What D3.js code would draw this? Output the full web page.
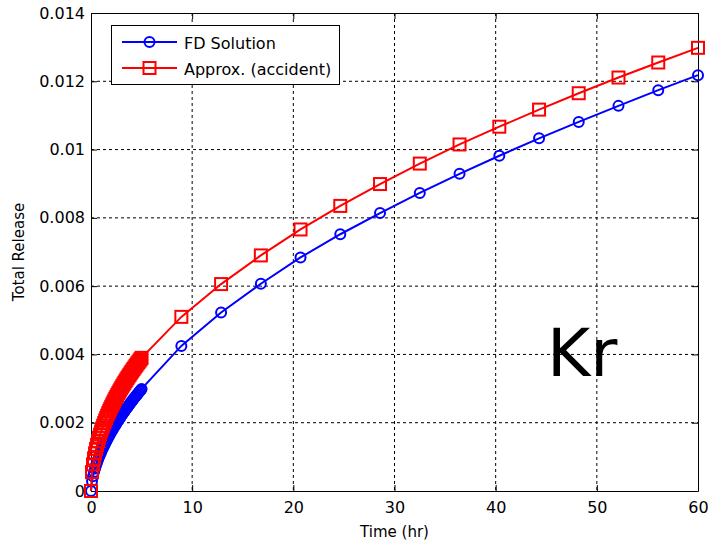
<!DOCTYPE html>
<html>
<head>
<meta charset="utf-8">
<script src="https://cdn.jsdelivr.net/npm/d3@7"></script>
<style>
  html, body { margin: 0; padding: 0; background: #fff; }
  svg { display: block; }
  text { font-family: "DejaVu Sans", sans-serif; fill: #000; }
</style>
</head>
<body>
<svg id="chart" width="708" height="544"></svg>
<script>
// ---- data ----
const times = [0, 0.1, 0.2, 0.3, 0.4, 0.5, 0.6, 0.7, 0.8, 0.9, 1.0, 1.1, 1.2, 1.3, 1.4, 1.5,
  1.6, 1.7, 1.8, 1.9, 2.0, 2.1, 2.2, 2.3, 2.4, 2.5, 2.6, 2.7, 2.8, 2.9, 3.0, 3.1, 3.2, 3.3,
  3.4, 3.5, 3.6, 3.7, 3.8, 3.9, 4.0, 4.1, 4.2, 4.3, 4.4, 4.5, 4.6, 4.7, 4.8, 4.9, 5.0,
  8.93, 12.86, 16.79, 20.71, 24.64, 28.57, 32.5, 36.43, 40.36, 44.29, 48.21, 52.14, 56.07, 60];

const fdSolution = [0, 0.000286, 0.000434, 0.000553, 0.000657, 0.000751, 0.000838, 0.000919,
  0.000996, 0.001069, 0.001138, 0.001205, 0.001270, 0.001332, 0.001393, 0.001452, 0.001509,
  0.001565, 0.001620, 0.001673, 0.001726, 0.001777, 0.001827, 0.001877, 0.001925, 0.001973,
  0.002019, 0.002066, 0.002112, 0.002156, 0.002201, 0.002245, 0.002288, 0.002330, 0.002372,
  0.002414, 0.002455, 0.002496, 0.002536, 0.002576, 0.002615, 0.002654, 0.002693, 0.002731,
  0.002769, 0.002807, 0.002844, 0.002881, 0.002918, 0.002954, 0.00299,
  0.00425, 0.00523, 0.00607, 0.00684, 0.00752, 0.00814, 0.00873, 0.00929, 0.00982, 0.01033,
  0.01081, 0.01128, 0.01174, 0.01218];

const approxAccident = [0, 0.000552, 0.000780, 0.000955, 0.001103, 0.001233, 0.001351, 0.001459,
  0.001560, 0.001654, 0.001744, 0.001829, 0.001910, 0.001988, 0.002064, 0.002136, 0.002206,
  0.002274, 0.002340, 0.002404, 0.002466, 0.002527, 0.002587, 0.002645, 0.002702, 0.002757,
  0.002812, 0.002866, 0.002918, 0.002970, 0.003021, 0.003071, 0.003120, 0.003168, 0.003216,
  0.003263, 0.003309, 0.003355, 0.003400, 0.003444, 0.003488, 0.003531, 0.003574, 0.003616,
  0.003658, 0.003700, 0.003741, 0.003781, 0.003821, 0.003861, 0.003900,
  0.00510, 0.00606, 0.00690, 0.00766, 0.00835, 0.00899, 0.00959, 0.01015, 0.01067, 0.01117,
  0.01165, 0.01211, 0.01255, 0.01298];

const xTicks = [0, 10, 20, 30, 40, 50, 60];
const yTicks = [0, 0.002, 0.004, 0.006, 0.008, 0.01, 0.012, 0.014];
const yTickLabels = ["0", "0.002", "0.004", "0.006", "0.008", "0.01", "0.012", "0.014"];
const seriesNames = ["FD Solution", "Approx. (accident)"];
const xLabel = "Time (hr)";
const yLabel = "Total Release";
const annotation = "Kr";

// ---- layout ----
const L = 91, R = 698, T = 13, B = 491;
const svg = d3.select("#chart");
const x = d3.scaleLinear().domain([0, 60]).range([L, R]);
const y = d3.scaleLinear().domain([0, 0.014]).range([B, T]);

// grid
const grid = svg.append("g");
grid.selectAll("line.gx").data(xTicks.slice(1, -1)).enter().append("line")
  .attr("x1", d => x(d)).attr("x2", d => x(d)).attr("y1", T).attr("y2", B)
  .attr("stroke", "#000").attr("stroke-width", 1).attr("stroke-dasharray", "3,3");
grid.selectAll("line.gy").data(yTicks.slice(1, -1)).enter().append("line")
  .attr("y1", d => y(d)).attr("y2", d => y(d)).attr("x1", L).attr("x2", R)
  .attr("stroke", "#000").attr("stroke-width", 1).attr("stroke-dasharray", "3,3");

// axes with inward ticks on all four sides
const tl = 6;
const axB = svg.append("g").attr("transform", `translate(0,${B})`)
  .call(d3.axisBottom(x).tickValues(xTicks).tickSizeInner(-tl).tickSizeOuter(0).tickPadding(10).tickFormat(d3.format("d")));
const axT = svg.append("g").attr("transform", `translate(0,${T})`)
  .call(d3.axisTop(x).tickValues(xTicks).tickSizeInner(-tl).tickSizeOuter(0).tickFormat(""));
const axL = svg.append("g").attr("transform", `translate(${L},0)`)
  .call(d3.axisLeft(y).tickValues(yTicks).tickSizeInner(-tl).tickSizeOuter(0).tickPadding(6)
    .tickFormat((d, i) => yTickLabels[i]));
const axR = svg.append("g").attr("transform", `translate(${R},0)`)
  .call(d3.axisRight(y).tickValues(yTicks).tickSizeInner(-tl).tickSizeOuter(0).tickFormat(""));
[axB, axT, axL, axR].forEach(a => {
  a.selectAll(".domain").attr("stroke", "#000").attr("stroke-width", 1);
  a.selectAll(".tick line").attr("stroke", "#000");
  a.selectAll("text").attr("font-family", "DejaVu Sans").attr("font-size", 16).attr("fill", "#000");
});
axB.selectAll(".tick text").attr("dy", null).attr("y", 22);

// axis labels
svg.append("text").attr("x", (L + R) / 2).attr("y", 537).attr("text-anchor", "middle")
  .attr("font-size", 15).text(xLabel);
svg.append("text").attr("transform", `translate(24,${(T + B) / 2}) rotate(-90)`)
  .attr("text-anchor", "middle").attr("font-size", 15).text(yLabel);

// series
const colors = ["#0000ff", "#ff0000"];
const seriesData = [fdSolution, approxAccident];
const line = d3.line().x(d => x(d[0])).y(d => y(d[1]));

function drawMarker(g, kind, cx, cy, color) {
  if (kind === 0) {
    g.append("circle").attr("cx", cx).attr("cy", cy).attr("r", 5)
      .attr("fill", "none").attr("stroke", color).attr("stroke-width", 2);
  } else {
    g.append("rect").attr("x", cx - 6).attr("y", cy - 6).attr("width", 12).attr("height", 12)
      .attr("fill", "none").attr("stroke", color).attr("stroke-width", 2);
  }
}

seriesData.forEach((vals, si) => {
  const pts = times.map((t, i) => [t, vals[i]]);
  const g = svg.append("g");
  g.append("path").attr("d", line(pts)).attr("fill", "none")
    .attr("stroke", colors[si]).attr("stroke-width", 2);
  pts.forEach(p => drawMarker(g, si, x(p[0]), y(p[1]), colors[si]));
});

// legend
const lg = svg.append("g");
lg.append("rect").attr("x", 111.5).attr("y", 25.5).attr("width", 228).attr("height", 59)
  .attr("fill", "#fff").attr("stroke", "#000").attr("stroke-width", 1);
seriesNames.forEach((name, i) => {
  const ly = 42 + i * 26;
  lg.append("line").attr("x1", 122).attr("x2", 177).attr("y1", ly).attr("y2", ly)
    .attr("stroke", colors[i]).attr("stroke-width", 2);
  drawMarker(lg, i, 149.5, ly, colors[i]);
  lg.append("text").attr("x", 184).attr("y", ly + 6.5).attr("font-size", 16).text(name);
});

// annotation
svg.append("text").attr("x", 547).attr("y", 376).attr("font-family", "Liberation Sans, Arial, sans-serif")
  .attr("font-size", 66).text(annotation);
</script>
</body>
</html>
